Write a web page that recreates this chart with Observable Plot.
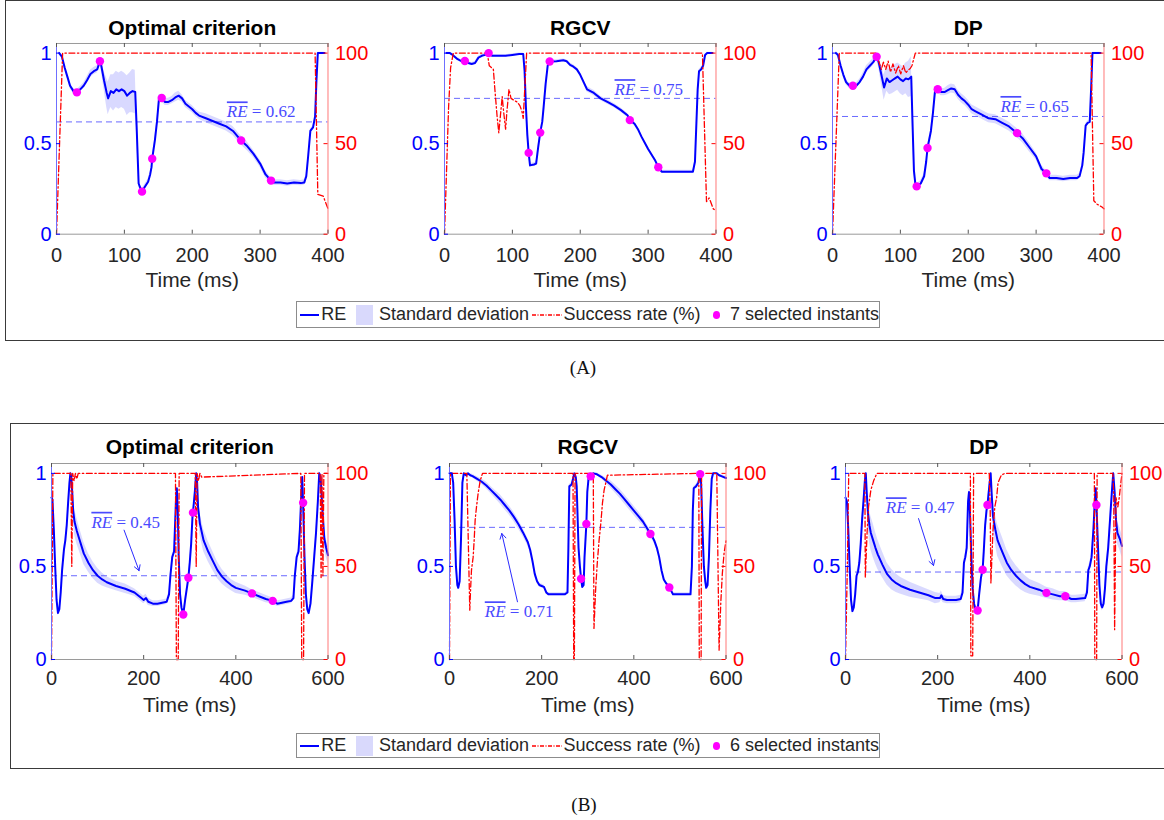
<!DOCTYPE html>
<html>
<head>
<meta charset="utf-8">
<script src="https://cdn.jsdelivr.net/npm/d3@7"></script>
<script src="https://cdn.jsdelivr.net/npm/@observablehq/plot@0.6"></script>
<style>
  html, body { margin: 0; padding: 0; background: #fff; }
  #page { position: relative; width: 1164px; height: 820px; overflow: hidden; background: #fff;
          font-family: "Liberation Sans", Arial, Helvetica, sans-serif; }
  .box { position: absolute; border: 1.3px solid #3a3a3a; box-sizing: border-box; }
  .panel { position: absolute; }
  .panel svg { max-width: none !important; display: block; }
  .legend { position: absolute; box-sizing: border-box; border: 1px solid #8c8c8c; background: #fff;
            display: flex; align-items: center; font-size: 18px; color: #262626; white-space: nowrap; padding-left: 3px; }
  .legend .ln { display: inline-block; width: 21px; height: 2px; background: #0000ff; margin-right: 2px; }
  .legend .sq { display: inline-block; width: 18px; height: 20px; background: #d9d9fc; margin: 0 6px 0 10px; }
  .legend .dt { display: inline-block; width: 8px; height: 8px; border-radius: 50%; background: #ff00ff; margin: 0 10px 0 12px; }
  .caption { position: absolute; font-family: "Liberation Serif", "Times New Roman", serif; font-size: 19px; color: #111;
             transform: translate(-50%, -50%); }
</style>
</head>
<body>
<div id="page"></div>
<script>
// ---------------- DATA ----------------
const yMax = 1.053;
const xTicksA = [0, 100, 200, 300, 400];
const xTicksB = [0, 200, 400, 600];
const yTicks = [0, 0.5, 1];
const titles = ["Optimal criterion", "RGCV", "DP"];
const legendLabels = ["RE", "Standard deviation", "Success rate (%)"];
const selectedCounts = [7, 6];
const captions = ["(A)", "(B)"];

// (A) Optimal criterion
const a1_t  = [4,8,12,16,20,25,30,35,40,45,50,55,60,64,66,70,74,76,80,84,88,92,96,100,104,108,112,116,118,121,124,126,130,135,138,140,141,145,148,151,155,160,165,170,175,180,185,190,195,200,205,210,220,230,240,250,260,272,280,290,300,308,316,320,330,340,350,360,365,368,371,374,378,381,383,385,395];
const a1_re = [1.0,0.98,0.92,0.87,0.82,0.79,0.783,0.80,0.82,0.85,0.885,0.90,0.91,0.955,0.93,0.85,0.78,0.75,0.79,0.78,0.80,0.79,0.80,0.79,0.765,0.78,0.79,0.785,0.60,0.28,0.25,0.235,0.26,0.29,0.33,0.37,0.417,0.52,0.62,0.75,0.752,0.73,0.73,0.74,0.755,0.765,0.75,0.72,0.705,0.69,0.67,0.655,0.64,0.625,0.61,0.595,0.57,0.517,0.49,0.445,0.39,0.33,0.296,0.285,0.285,0.28,0.285,0.282,0.285,0.32,0.44,0.57,0.59,0.65,0.85,1.0,1.0];
const a1_sd = [0.01,0.01,0.015,0.015,0.015,0.015,0.015,0.015,0.015,0.02,0.02,0.02,0.02,0.02,0.03,0.05,0.08,0.09,0.09,0.1,0.1,0.1,0.1,0.1,0.11,0.11,0.12,0.12,0.05,0.02,0.015,0.015,0.015,0.015,0.015,0.015,0.015,0.015,0.015,0.02,0.02,0.02,0.02,0.02,0.025,0.025,0.02,0.02,0.02,0.02,0.02,0.02,0.025,0.025,0.025,0.025,0.025,0.025,0.025,0.02,0.02,0.02,0.015,0.015,0.015,0.015,0.015,0.015,0.015,0.01,0.01,0.01,0.01,0.01,0.01,0.005,0.005];
const a1_rate_t = [0,9,381,385,393,400];
const a1_rate   = [0,100,100,22,21,14];
const a1_sel_t  = [30,64,126,141,155,272,316];
const a1_sel_re = [0.783,0.955,0.235,0.417,0.752,0.517,0.296];
const a1_mean = 0.62;
const a1_label_pos = [301.5, 0.675];

// (A) RGCV
const a2_t  = [3,8,12,18,25,30,35,40,45,50,55,60,65,70,80,90,100,110,116,118,120,122,124,126,132,135,138,141,144,146,149,152,155,165,175,180,185,190,195,200,205,210,215,220,230,240,250,260,270,273,280,285,290,300,310,315,320,330,350,366,369,371,373,375,378,381,384,387,395];
const a2_re = [1.0,1.0,0.99,0.97,0.955,0.956,0.945,0.94,0.945,0.975,0.985,0.99,1.0,0.985,0.985,0.985,0.99,0.995,0.995,0.90,0.70,0.55,0.449,0.38,0.385,0.39,0.48,0.561,0.62,0.70,0.83,0.93,0.954,0.955,0.96,0.955,0.935,0.925,0.91,0.88,0.84,0.80,0.79,0.78,0.75,0.73,0.71,0.685,0.655,0.63,0.61,0.58,0.54,0.47,0.41,0.37,0.345,0.345,0.345,0.345,0.40,0.60,0.80,0.90,0.91,0.93,0.99,1.0,1.0];
const a2_sd = [0.005,0.005,0.006,0.008,0.008,0.008,0.008,0.008,0.008,0.008,0.008,0.006,0.005,0.006,0.006,0.006,0.006,0.005,0.005,0.01,0.01,0.01,0.01,0.01,0.01,0.01,0.01,0.01,0.01,0.01,0.01,0.01,0.008,0.008,0.008,0.008,0.01,0.01,0.01,0.012,0.012,0.015,0.015,0.015,0.012,0.012,0.012,0.012,0.012,0.012,0.012,0.012,0.01,0.01,0.01,0.008,0.008,0.008,0.008,0.008,0.01,0.01,0.01,0.01,0.01,0.008,0.005,0.005,0.005];
const a2_rate_t = [0,3,6,9,13,63,66,69,72,74,77.5,80,83,85,87,90,92,95,98,102,107,111,114,116,121,380,386,390,396,400];
const a2_rate   = [0,35,70,92,100,100,93,92,91,81,65,56,68,76,68,58,68,80,75,74,73,71,68,64,100,100,18,20,14,13];
const a2_sel_t  = [30,65,124,141,155,273,315];
const a2_sel_re = [0.956,1.0,0.449,0.561,0.954,0.63,0.37];
const a2_mean = 0.75;
const a2_label_pos = [301, 0.798];

// (A) DP
const a3_t  = [5,8,12,16,20,25,30,35,40,45,50,55,60,65,68,72,76,80,84,88,92,96,100,104,108,112,116,118,120,122,124,130,135,138,140,145,148,151,155,160,165,170,175,180,185,190,195,200,205,210,220,230,240,250,260,272,280,290,300,308,315,320,330,340,350,360,364,368,370,373,376,379,381,383,395];
const a3_re = [1.0,0.99,0.93,0.88,0.84,0.82,0.82,0.82,0.84,0.87,0.91,0.93,0.95,0.98,0.95,0.88,0.81,0.86,0.84,0.85,0.86,0.87,0.855,0.845,0.86,0.855,0.87,0.60,0.35,0.28,0.264,0.28,0.32,0.40,0.476,0.57,0.67,0.79,0.80,0.785,0.785,0.795,0.805,0.80,0.77,0.75,0.735,0.715,0.69,0.68,0.66,0.64,0.635,0.615,0.595,0.558,0.53,0.48,0.43,0.36,0.336,0.31,0.31,0.305,0.31,0.31,0.32,0.38,0.45,0.60,0.615,0.62,0.8,1.0,1.0];
const a3_sd = [0.01,0.01,0.015,0.015,0.015,0.015,0.015,0.015,0.015,0.02,0.02,0.02,0.02,0.02,0.03,0.05,0.07,0.07,0.07,0.075,0.075,0.075,0.08,0.08,0.085,0.1,0.11,0.05,0.02,0.015,0.015,0.015,0.015,0.015,0.015,0.015,0.015,0.02,0.02,0.02,0.02,0.025,0.025,0.025,0.025,0.025,0.025,0.025,0.025,0.025,0.025,0.025,0.025,0.025,0.025,0.025,0.025,0.025,0.02,0.02,0.015,0.015,0.015,0.015,0.015,0.015,0.015,0.012,0.01,0.01,0.01,0.01,0.01,0.005,0.005];
const a3_rate_t = [0,10,64,72,75,78.5,82,85.5,89,93,97,100.5,104.5,108,111,114.5,117,122,381,385,390,397,400];
const a3_rate   = [0,100,100,91,95,91,95.5,89.5,94,89,93,88.5,93,89,90.5,91.5,93,100,100,18.5,16.5,15,14];
const a3_sel_t  = [30,65,124,140,155,272,315];
const a3_sel_re = [0.82,0.98,0.264,0.476,0.80,0.558,0.336];
const a3_mean = 0.65;
const a3_label_pos = [298, 0.705];

// (B) Optimal criterion
const b1_t  = [0,2,5,8,11,14,17,20,23,27,30,33,36,39,41,43,45,47,50,55,60,70,80,90,100,110,120,140,160,180,195,200,205,210,220,230,240,250,255,258,262,266,270,272,274,276,279,282,286,290,297,300,303,306,307,311,314,316,318,322,330,340,350,360,370,380,390,400,420,435,450,465,480,490,500,510,520,525,528,532,536,539,542,544,546,549,552,555,558,562,566,570,574,578,581,584,588,592,596,600];
const b1_re = [0.87,0.86,0.70,0.50,0.32,0.25,0.27,0.36,0.48,0.59,0.64,0.72,0.84,0.95,1.0,0.98,0.90,0.80,0.74,0.69,0.65,0.57,0.52,0.48,0.45,0.43,0.415,0.395,0.38,0.36,0.33,0.32,0.33,0.31,0.30,0.30,0.305,0.31,0.35,0.45,0.55,0.58,0.85,0.92,0.80,0.55,0.35,0.28,0.242,0.32,0.439,0.52,0.62,0.77,0.789,0.90,1.0,0.95,0.82,0.73,0.64,0.58,0.53,0.48,0.445,0.42,0.40,0.385,0.37,0.355,0.34,0.325,0.315,0.30,0.305,0.31,0.315,0.33,0.45,0.55,0.58,0.70,0.88,0.98,0.842,0.55,0.35,0.27,0.25,0.30,0.42,0.55,0.68,0.85,1.0,0.98,0.80,0.65,0.60,0.56];
const b1_sd = [0.01,0.01,0.015,0.015,0.015,0.015,0.015,0.015,0.015,0.015,0.015,0.015,0.015,0.01,0.01,0.02,0.04,0.06,0.07,0.07,0.065,0.06,0.05,0.045,0.04,0.035,0.03,0.025,0.025,0.02,0.02,0.02,0.02,0.02,0.015,0.015,0.015,0.015,0.015,0.015,0.015,0.015,0.015,0.015,0.015,0.015,0.015,0.015,0.015,0.015,0.015,0.015,0.015,0.015,0.015,0.015,0.01,0.02,0.04,0.06,0.06,0.055,0.05,0.045,0.04,0.035,0.03,0.03,0.025,0.02,0.02,0.02,0.015,0.015,0.015,0.015,0.015,0.015,0.015,0.015,0.015,0.015,0.015,0.01,0.015,0.015,0.015,0.015,0.015,0.015,0.015,0.015,0.015,0.015,0.01,0.02,0.04,0.05,0.05,0.05];
const b1_rate_t = [0,3,42,44,46,49,52,55,58,269,271,275,277,312,314,316,319,322,326,541,543,547,549,583,585,587,589,591,600];
const b1_rate   = [0,100,100,50,100,96,100,97,100,100,0,0,100,100,50,100,96,100,98,100,0,0,100,100,44,100,45,100,100];
const b1_sel_t  = [286,297,307,435,480,546];
const b1_sel_re = [0.242,0.439,0.789,0.355,0.315,0.842];
const b1_mean = 0.45;
const b1_label_pos = [161, 0.737];
const b1_arrow_t = [157.5, 190];
const b1_arrow_v = [0.695, 0.477];

// (B) RGCV
const b2_t  = [0,5,8,11,14,17,19,22,25,28,31,36,40,45,50,60,70,80,90,100,110,120,130,140,150,160,170,175,180,185,190,195,200,205,210,215,230,250,256,258,260,265,268,271,274,276,280,283,285.5,288,291,293,297,299,302,306.5,312,320,330,340,350,360,370,380,390,400,410,420,430,436,440,445,450,455,460,465,470,477,480,485,500,515,523,526,528,530,535,540,544,546,549,552,555,557,560,563,566,569,572,580,585,590,595,600];
const b2_re = [1.0,1.0,0.95,0.75,0.50,0.40,0.385,0.42,0.65,0.95,1.0,0.99,1.0,0.99,0.985,0.97,0.955,0.935,0.91,0.885,0.86,0.83,0.80,0.765,0.725,0.68,0.63,0.59,0.53,0.46,0.42,0.40,0.395,0.39,0.36,0.35,0.35,0.35,0.36,0.60,0.93,0.94,0.97,1.0,0.98,0.93,0.60,0.50,0.434,0.39,0.40,0.55,0.728,0.90,0.98,0.984,1.0,0.995,0.98,0.96,0.94,0.915,0.89,0.86,0.83,0.80,0.77,0.74,0.70,0.674,0.66,0.635,0.60,0.55,0.48,0.43,0.41,0.387,0.375,0.35,0.35,0.35,0.35,0.50,0.80,0.92,0.93,0.95,0.996,0.95,0.70,0.50,0.42,0.385,0.40,0.55,0.80,0.97,1.0,1.0,0.99,0.985,0.98,0.975];
const b2_sd = [0.005,0.005,0.01,0.01,0.01,0.01,0.01,0.01,0.01,0.01,0.005,0.005,0.005,0.008,0.01,0.012,0.015,0.018,0.02,0.022,0.025,0.025,0.025,0.025,0.025,0.022,0.02,0.02,0.018,0.015,0.012,0.01,0.01,0.01,0.01,0.008,0.008,0.008,0.008,0.01,0.01,0.01,0.01,0.005,0.01,0.01,0.01,0.01,0.01,0.01,0.01,0.01,0.01,0.01,0.01,0.01,0.005,0.008,0.01,0.015,0.02,0.022,0.025,0.025,0.025,0.025,0.025,0.022,0.02,0.02,0.018,0.015,0.015,0.012,0.012,0.01,0.01,0.01,0.01,0.008,0.008,0.008,0.008,0.01,0.01,0.01,0.01,0.01,0.005,0.01,0.01,0.01,0.01,0.01,0.01,0.01,0.01,0.01,0.005,0.005,0.005,0.008,0.008,0.008];
const b2_rate_t = [0,2,37.6,44,46,47.7,51.3,53.5,55.7,58.6,62,66.5,71.6,268,269.5,271,272.5,312,313.5,317.4,321,324.6,328.3,331.9,335.5,342.7,541,542,546,547,580,585,588.6,592,595.8,600];
const b2_rate   = [0,100,100,26.5,39,48,55,64,75,82,89,96,100,100,0,0,100,100,16.7,39,53,64,73,84,91,99,100,0,0,100,100,5,30,46,57,64];
const b2_sel_t  = [285.5,297,306.5,436,477,544];
const b2_sel_re = [0.434,0.728,0.984,0.674,0.387,0.996];
const b2_mean = 0.71;
const b2_label_pos = [151, 0.256];
const b2_arrow_t = [147.5, 113.5];
const b2_arrow_v = [0.31, 0.677];

// (B) DP
const b3_t  = [0,3,6,9,12,15,18,21,24,27,30,33,36,39,42,44,46,49,52,55,60,65,70,80,90,100,110,120,140,160,180,195,205,208,212,220,240,250,254,257,260,263,266,268,270,273,276,279,282,286.7,290,294,297.6,300,303,306,308,312,315,317,320,325,330,340,350,360,370,380,390,400,420,436,450,465,477,490,500,520,524,527,530,534,538,541,543,544.5,548,551,554,557,560,563,566,570,574,578,581,584,587,590,595,600];
const b3_re = [0.87,0.85,0.70,0.50,0.32,0.26,0.28,0.35,0.45,0.47,0.52,0.62,0.75,0.85,0.96,1.0,0.90,0.78,0.72,0.68,0.64,0.60,0.565,0.51,0.46,0.43,0.41,0.395,0.375,0.36,0.345,0.33,0.33,0.345,0.325,0.32,0.32,0.325,0.36,0.52,0.55,0.60,0.85,0.90,0.80,0.55,0.38,0.30,0.27,0.263,0.35,0.44,0.482,0.58,0.72,0.80,0.83,0.93,1.0,0.90,0.77,0.70,0.64,0.58,0.52,0.48,0.45,0.425,0.405,0.39,0.375,0.358,0.35,0.34,0.34,0.325,0.325,0.33,0.36,0.48,0.50,0.55,0.70,0.85,0.92,0.83,0.60,0.40,0.30,0.28,0.30,0.38,0.50,0.60,0.75,0.90,1.0,0.90,0.75,0.68,0.65,0.61];
const b3_sd = [0.01,0.015,0.02,0.02,0.02,0.02,0.02,0.02,0.02,0.02,0.02,0.02,0.02,0.02,0.015,0.01,0.04,0.07,0.09,0.09,0.09,0.085,0.08,0.07,0.06,0.055,0.05,0.045,0.04,0.035,0.03,0.03,0.025,0.025,0.02,0.02,0.02,0.02,0.02,0.02,0.02,0.02,0.02,0.02,0.02,0.02,0.02,0.02,0.02,0.02,0.02,0.02,0.02,0.02,0.02,0.02,0.02,0.02,0.01,0.04,0.07,0.08,0.085,0.08,0.07,0.06,0.055,0.05,0.045,0.04,0.035,0.03,0.03,0.025,0.025,0.02,0.02,0.02,0.02,0.02,0.02,0.02,0.02,0.02,0.02,0.02,0.02,0.02,0.02,0.02,0.02,0.02,0.02,0.02,0.02,0.02,0.01,0.03,0.05,0.06,0.06,0.06];
const b3_rate_t = [0,4,7,40,42,43,47,50,55,61,68,271,272,276,278,312,314,315.5,320,324,328,331,338,346,540,541,545,546,580,582,584,587,591,594,598,600];
const b3_rate   = [0,50,100,100,100,44,69,82,91,96,100,100,2,2,100,100,80,41,69,82,87,95,99,100,100,0,0,100,100,90,16,87,82,87,96,100];
const b3_sel_t  = [286.7,297.6,308,436,477,544.5];
const b3_sel_re = [0.263,0.482,0.83,0.358,0.34,0.83];
const b3_mean = 0.47;
const b3_label_pos = [162, 0.815];
const b3_arrow_t = [158.5, 191];
const b3_arrow_v = [0.757, 0.505];

// ---------------- LAYOUT ----------------
const page = document.getElementById("page");
const ML = 55, MR = 55, MT = 40, MB = 62;
const geoA = {lefts: [56, 444, 832], top: 43.3, w: 271.5, h: 190.7, titleDy: -15, tickPad: 14, labelDy: 46, xDomain: [0, 400], xTicks: xTicksA};
const geoB = {lefts: [51, 448.7, 845], top: 463.3, w: 276.5, h: 196, titleDy: -16.6, tickPad: 11.5, labelDy: 45.7, xDomain: [0, 600], xTicks: xTicksB};

const specsA = [
  {t: a1_t, re: a1_re, sd: a1_sd, rt: a1_rate_t, r: a1_rate, st: a1_sel_t, sv: a1_sel_re, mean: a1_mean, lab: a1_label_pos},
  {t: a2_t, re: a2_re, sd: a2_sd, rt: a2_rate_t, r: a2_rate, st: a2_sel_t, sv: a2_sel_re, mean: a2_mean, lab: a2_label_pos},
  {t: a3_t, re: a3_re, sd: a3_sd, rt: a3_rate_t, r: a3_rate, st: a3_sel_t, sv: a3_sel_re, mean: a3_mean, lab: a3_label_pos}
];
const specsB = [
  {t: b1_t, re: b1_re, sd: b1_sd, rt: b1_rate_t, r: b1_rate, st: b1_sel_t, sv: b1_sel_re, mean: b1_mean, lab: b1_label_pos, at: b1_arrow_t, av: b1_arrow_v},
  {t: b2_t, re: b2_re, sd: b2_sd, rt: b2_rate_t, r: b2_rate, st: b2_sel_t, sv: b2_sel_re, mean: b2_mean, lab: b2_label_pos, at: b2_arrow_t, av: b2_arrow_v},
  {t: b3_t, re: b3_re, sd: b3_sd, rt: b3_rate_t, r: b3_rate, st: b3_sel_t, sv: b3_sel_re, mean: b3_mean, lab: b3_label_pos, at: b3_arrow_t, av: b3_arrow_v}
];

function addBox(left, top, width, height) {
  const d = document.createElement("div");
  d.className = "box";
  Object.assign(d.style, {left: left + "px", top: top + "px", width: width + "px", height: height + "px"});
  page.appendChild(d);
}
addBox(5, 0, 1175, 341);
addBox(10, 423, 1170, 346);

function drawPanel(s, title, geo, i) {
  const series = s.t.map((t, k) => ({t, re: s.re[k], sd: s.sd[k]}));
  const rate = s.rt.map((t, k) => ({t, r: s.r[k]}));
  const sel = s.st.map((t, k) => ({t, v: s.sv[k]}));
  const lab = [{t: s.lab[0], v: s.lab[1], m: s.mean}];
  const arrows = s.at ? [{x1: s.at[0], y1: s.av[0], x2: s.at[1], y2: s.av[1]}] : [];
  const [x0, x1] = geo.xDomain;
  const W = geo.w + ML + MR, H = geo.h + MT + MB;
  const marks = [
    Plot.areaY(series, {x: "t", y1: d => d.re - d.sd, y2: d => d.re + d.sd, fill: "#0000ff", fillOpacity: 0.15}),
    Plot.ruleY([s.mean], {stroke: "#4f4fff", strokeOpacity: 0.85, strokeWidth: 1, strokeDasharray: "6,4"}),
    Plot.lineY(series, {x: "t", y: "re", stroke: "#0000ff", strokeWidth: 2}),
    Plot.lineY(rate, {x: "t", y: d => d.r / 100, stroke: "#ff0000", strokeWidth: 1.3, strokeDasharray: "6,2.5,1.5,2.5"}),
    Plot.dot(sel, {x: "t", y: "v", r: 4.2, fill: "#ff00ff", stroke: "none"}),
    Plot.text(lab, {x: "t", y: "v", text: d => "RE = " + d.m.toFixed(2), fontSize: 17, fill: "#4a4aff",
                    fontFamily: "Liberation Serif, Times New Roman, serif"}),
    Plot.arrow(arrows, {x1: "x1", y1: "y1", x2: "x2", y2: "y2", stroke: "#2b2bff", strokeWidth: 1, headLength: 9}),
    // frame edges
    Plot.ruleY([0, yMax], {stroke: "#9a9a9a", strokeWidth: 1}),
    Plot.ruleX([x0], {stroke: "#6e6eff", strokeWidth: 1}),
    Plot.ruleX([x1], {stroke: "#ff7878", strokeWidth: 1}),
    // inner tick marks
    Plot.tickX(geo.xTicks, {x: d => d, insetTop: geo.h - 4, stroke: "#555"}),
    Plot.tickX(geo.xTicks, {x: d => d, insetBottom: geo.h - 4, stroke: "#555"}),
    Plot.tickY(yTicks, {y: d => d, insetRight: geo.w - 4, stroke: "#0000ff"}),
    Plot.tickY(yTicks, {y: d => d, insetLeft: geo.w - 4, stroke: "#ff0000"}),
    // axes
    Plot.axisX({ticks: geo.xTicks, anchor: "bottom", tickSize: 0, tickPadding: geo.tickPad, fontSize: 20, color: "#262626", label: null, tickFormat: d => String(d)}),
    Plot.axisY({ticks: yTicks, anchor: "left", tickSize: 0, tickPadding: 5, fontSize: 20, color: "#0000ff", label: null, tickFormat: d => String(d)}),
    Plot.axisY({ticks: yTicks, anchor: "right", tickSize: 0, tickPadding: 7, fontSize: 20, color: "#ff0000", label: null, tickFormat: d => String(Math.round(d * 100))}),
    // title and x label
    Plot.text([title], {text: d => d, frameAnchor: "top", lineAnchor: "middle", dy: geo.titleDy, fontSize: 21, fontWeight: "bold", fill: "#000"}),
    Plot.text(["Time (ms)"], {text: d => d, frameAnchor: "bottom", lineAnchor: "middle", dy: geo.labelDy, fontSize: 21, fill: "#262626"})
  ];
  const svg = Plot.plot({
    width: W, height: H,
    marginLeft: ML, marginRight: MR, marginTop: MT, marginBottom: MB,
    x: {domain: geo.xDomain},
    y: {domain: [0, yMax]},
    style: {background: "transparent", fontFamily: "Liberation Sans, Arial, Helvetica, sans-serif", overflow: "visible", maxWidth: "none"},
    marks
  });
  svg.style.maxWidth = "none";
  svg.style.width = W + "px";
  svg.style.height = H + "px";
  // overline + italic for mean label
  const ns = "http://www.w3.org/2000/svg";
  svg.querySelectorAll("text").forEach(el => {
    const txt = el.textContent;
    if (el.children.length || !txt.startsWith("RE = ")) return;
    el.textContent = "";
    const a = document.createElementNS(ns, "tspan");
    a.setAttribute("font-style", "italic");
    a.setAttribute("text-decoration", "overline");
    a.style.textDecoration = "overline";
    a.textContent = "RE";
    const b = document.createElementNS(ns, "tspan");
    b.textContent = txt.slice(2);
    el.append(a, b);
  });
  const wrap = document.createElement("div");
  wrap.className = "panel";
  wrap.style.left = (geo.lefts[i] - ML) + "px";
  wrap.style.top = (geo.top - MT) + "px";
  wrap.style.width = W + "px";
  wrap.style.height = H + "px";
  wrap.appendChild(svg);
  page.appendChild(wrap);
}

specsA.forEach((s, i) => drawPanel(s, titles[i], geoA, i));
specsB.forEach((s, i) => drawPanel(s, titles[i], geoB, i));

function addLegend(top, height, n) {
  const d = document.createElement("div");
  d.className = "legend";
  Object.assign(d.style, {left: "296px", top: top + "px", height: height + "px", width: "584px"});
  d.innerHTML =
    `<span class="ln"></span><span>${legendLabels[0]}</span>` +
    `<span class="sq"></span><span>${legendLabels[1]}</span>` +
    `<svg width="32" height="6" style="margin:0 2px 0 3px"><line x1="0" y1="3" x2="32" y2="3" stroke="#ff0000" stroke-width="1.3" stroke-dasharray="4,1.5,1,1.5"/></svg>` +
    `<span>${legendLabels[2]}</span>` +
    `<span class="dt"></span><span>${n} selected instants</span>`;
  page.appendChild(d);
}
addLegend(301, 27, selectedCounts[0]);
addLegend(733, 25, selectedCounts[1]);

function addCaption(text, x, y) {
  const d = document.createElement("div");
  d.className = "caption";
  d.textContent = text;
  Object.assign(d.style, {left: x + "px", top: y + "px"});
  page.appendChild(d);
}
addCaption(captions[0], 583, 368);
addCaption(captions[1], 584, 805);
</script>
</body>
</html>
